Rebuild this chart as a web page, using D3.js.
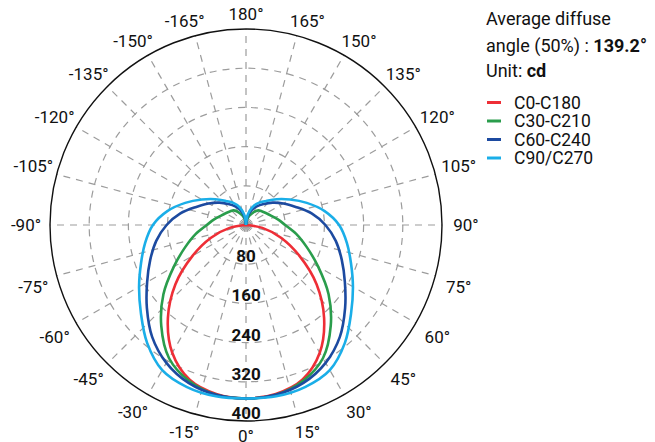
<!DOCTYPE html>
<html><head><meta charset="utf-8">
<script src="https://cdn.jsdelivr.net/npm/d3@7"></script>
<style>body{margin:0;background:#fff;} svg{display:block;font-family:Roboto, "Noto Sans", sans-serif;}</style>
</head><body>
<svg id="c" width="655" height="442"></svg>
<script>
// polar angles (degrees from nadir), half-plane; mirrored to the other side
const angles = [0,10,20,30,40,50,60,70,80,90,100,110,120,130,140,150,160,170,180];
const c0c180  = [354,350,336,301,248,188,126,76,34,0,0,0,0,0,0,0,0,0,0];
const c30c210 = [354,352,339,314,269,220,170,132,104,80,66,55,48,43,39,30,20,10,0];
const c60c240 = [354,352,343,325,298,264,233,208,186,162,136,108,88,71,56,44,32,17,0];
const c90c270 = [354,355,352,342,314,280,252,228,209,190,163,132,104,82,64,52,39,22,0];
const seriesNames  = ["C0-C180","C30-C210","C60-C240","C90/C270"];
const seriesColors = ["#ee2e36","#2a9d4c","#1c4aa0","#1aaee8"];
const radialTicks = [80,160,240,320,400];
const angleTicks = [-165,-150,-135,-120,-105,-90,-75,-60,-45,-30,-15,0,15,30,45,60,75,90,105,120,135,150,165,180];
const headerLines = ["Average diffuse","angle (50%) : ","Unit: "];
const headerBold = ["","139.2°","cd"];

const svg = d3.select("#c");
const cx = 246, cy = 225, R = 196;
const r = d3.scaleLinear().domain([0,400]).range([0,R]);
const toRad = a => a*Math.PI/180;

const g = svg.append("g").attr("transform",`translate(${cx},${cy})`);

// dashed grid circles
g.selectAll("circle.grid").data(radialTicks.slice(0,-1)).join("circle")
  .attr("r", d=>r(d)).attr("fill","none").attr("stroke","#9c9c9c")
  .attr("stroke-width",1.2).attr("stroke-dasharray","7,6");
// radial dashed lines
g.selectAll("line.spoke").data(angleTicks).join("line")
  .attr("x1",0).attr("y1",0)
  .attr("x2",d=>R*Math.sin(toRad(d))).attr("y2",d=>R*Math.cos(toRad(d)))
  .attr("stroke","#9c9c9c").attr("stroke-width",1.2).attr("stroke-dasharray","7,6");
// outer circle
g.append("circle").attr("r",r(400)).attr("fill","none").attr("stroke","#111").attr("stroke-width",1.4);

// curves
const series = [c0c180,c30c210,c60c240,c90c270];
function fullCurve(vals){
  const pts=[];
  for(let i=angles.length-1;i>=1;i--) pts.push([-angles[i], vals[i]]);
  for(let i=0;i<angles.length;i++) pts.push([angles[i], vals[i]]);
  return pts;
}
const line = d3.lineRadial()
  .angle(d=>Math.PI - toRad(d[0]))
  .radius(d=>r(d[1]))
  .curve(d3.curveCatmullRom.alpha(0.5));
series.forEach((s,i)=>{
  g.append("path").attr("d",line(fullCurve(s))).attr("fill","none")
   .attr("stroke",seriesColors[i]).attr("stroke-width",2.6).attr("stroke-linejoin","round");
});

// radial labels
g.selectAll("text.rl").data(radialTicks).join("text")
  .attr("x",0).attr("y",d=>r(d)-2).attr("text-anchor","middle")
  .attr("font-size",17).attr("font-weight","bold").attr("fill","#111").text(d=>d);

// angle labels
g.selectAll("text.al").data(angleTicks).join("text")
  .attr("font-size",17).attr("fill","#111").attr("text-anchor","middle")
  .attr("dominant-baseline","central")
  .text(d=>d+"°")
  .each(function(d){
    const s=Math.sin(toRad(d)), c=Math.cos(toRad(d));
    const sx = Math.abs(s)<1e-6?0:Math.sign(s), sy = Math.abs(c)<1e-6?0:Math.sign(c);
    d3.select(this)
      .attr("x", 214*s + 6*sx)
      .attr("y", 205*c + 6*sy + (c>0.01 && c<0.99?3:0));
  });

// header
const hx = 486, hy = [25,52,77];
headerLines.forEach((h,i)=>{
  const t = svg.append("text").attr("x",hx).attr("y",hy[i]).attr("font-size",18).attr("fill","#111");
  t.append("tspan").text(h);
  if(headerBold[i]) t.append("tspan").attr("font-weight","bold").text(headerBold[i]);
});

// legend
const ly0 = 102.5, ldy = 18.5;
seriesNames.forEach((n,i)=>{
  const y = ly0 + i*ldy;
  svg.append("line").attr("x1",487).attr("x2",501).attr("y1",y).attr("y2",y)
    .attr("stroke",seriesColors[i]).attr("stroke-width",3);
  svg.append("text").attr("x",514).attr("y",y+6).attr("font-size",17.5).attr("fill","#111").text(n);
});
</script>
</body></html>
